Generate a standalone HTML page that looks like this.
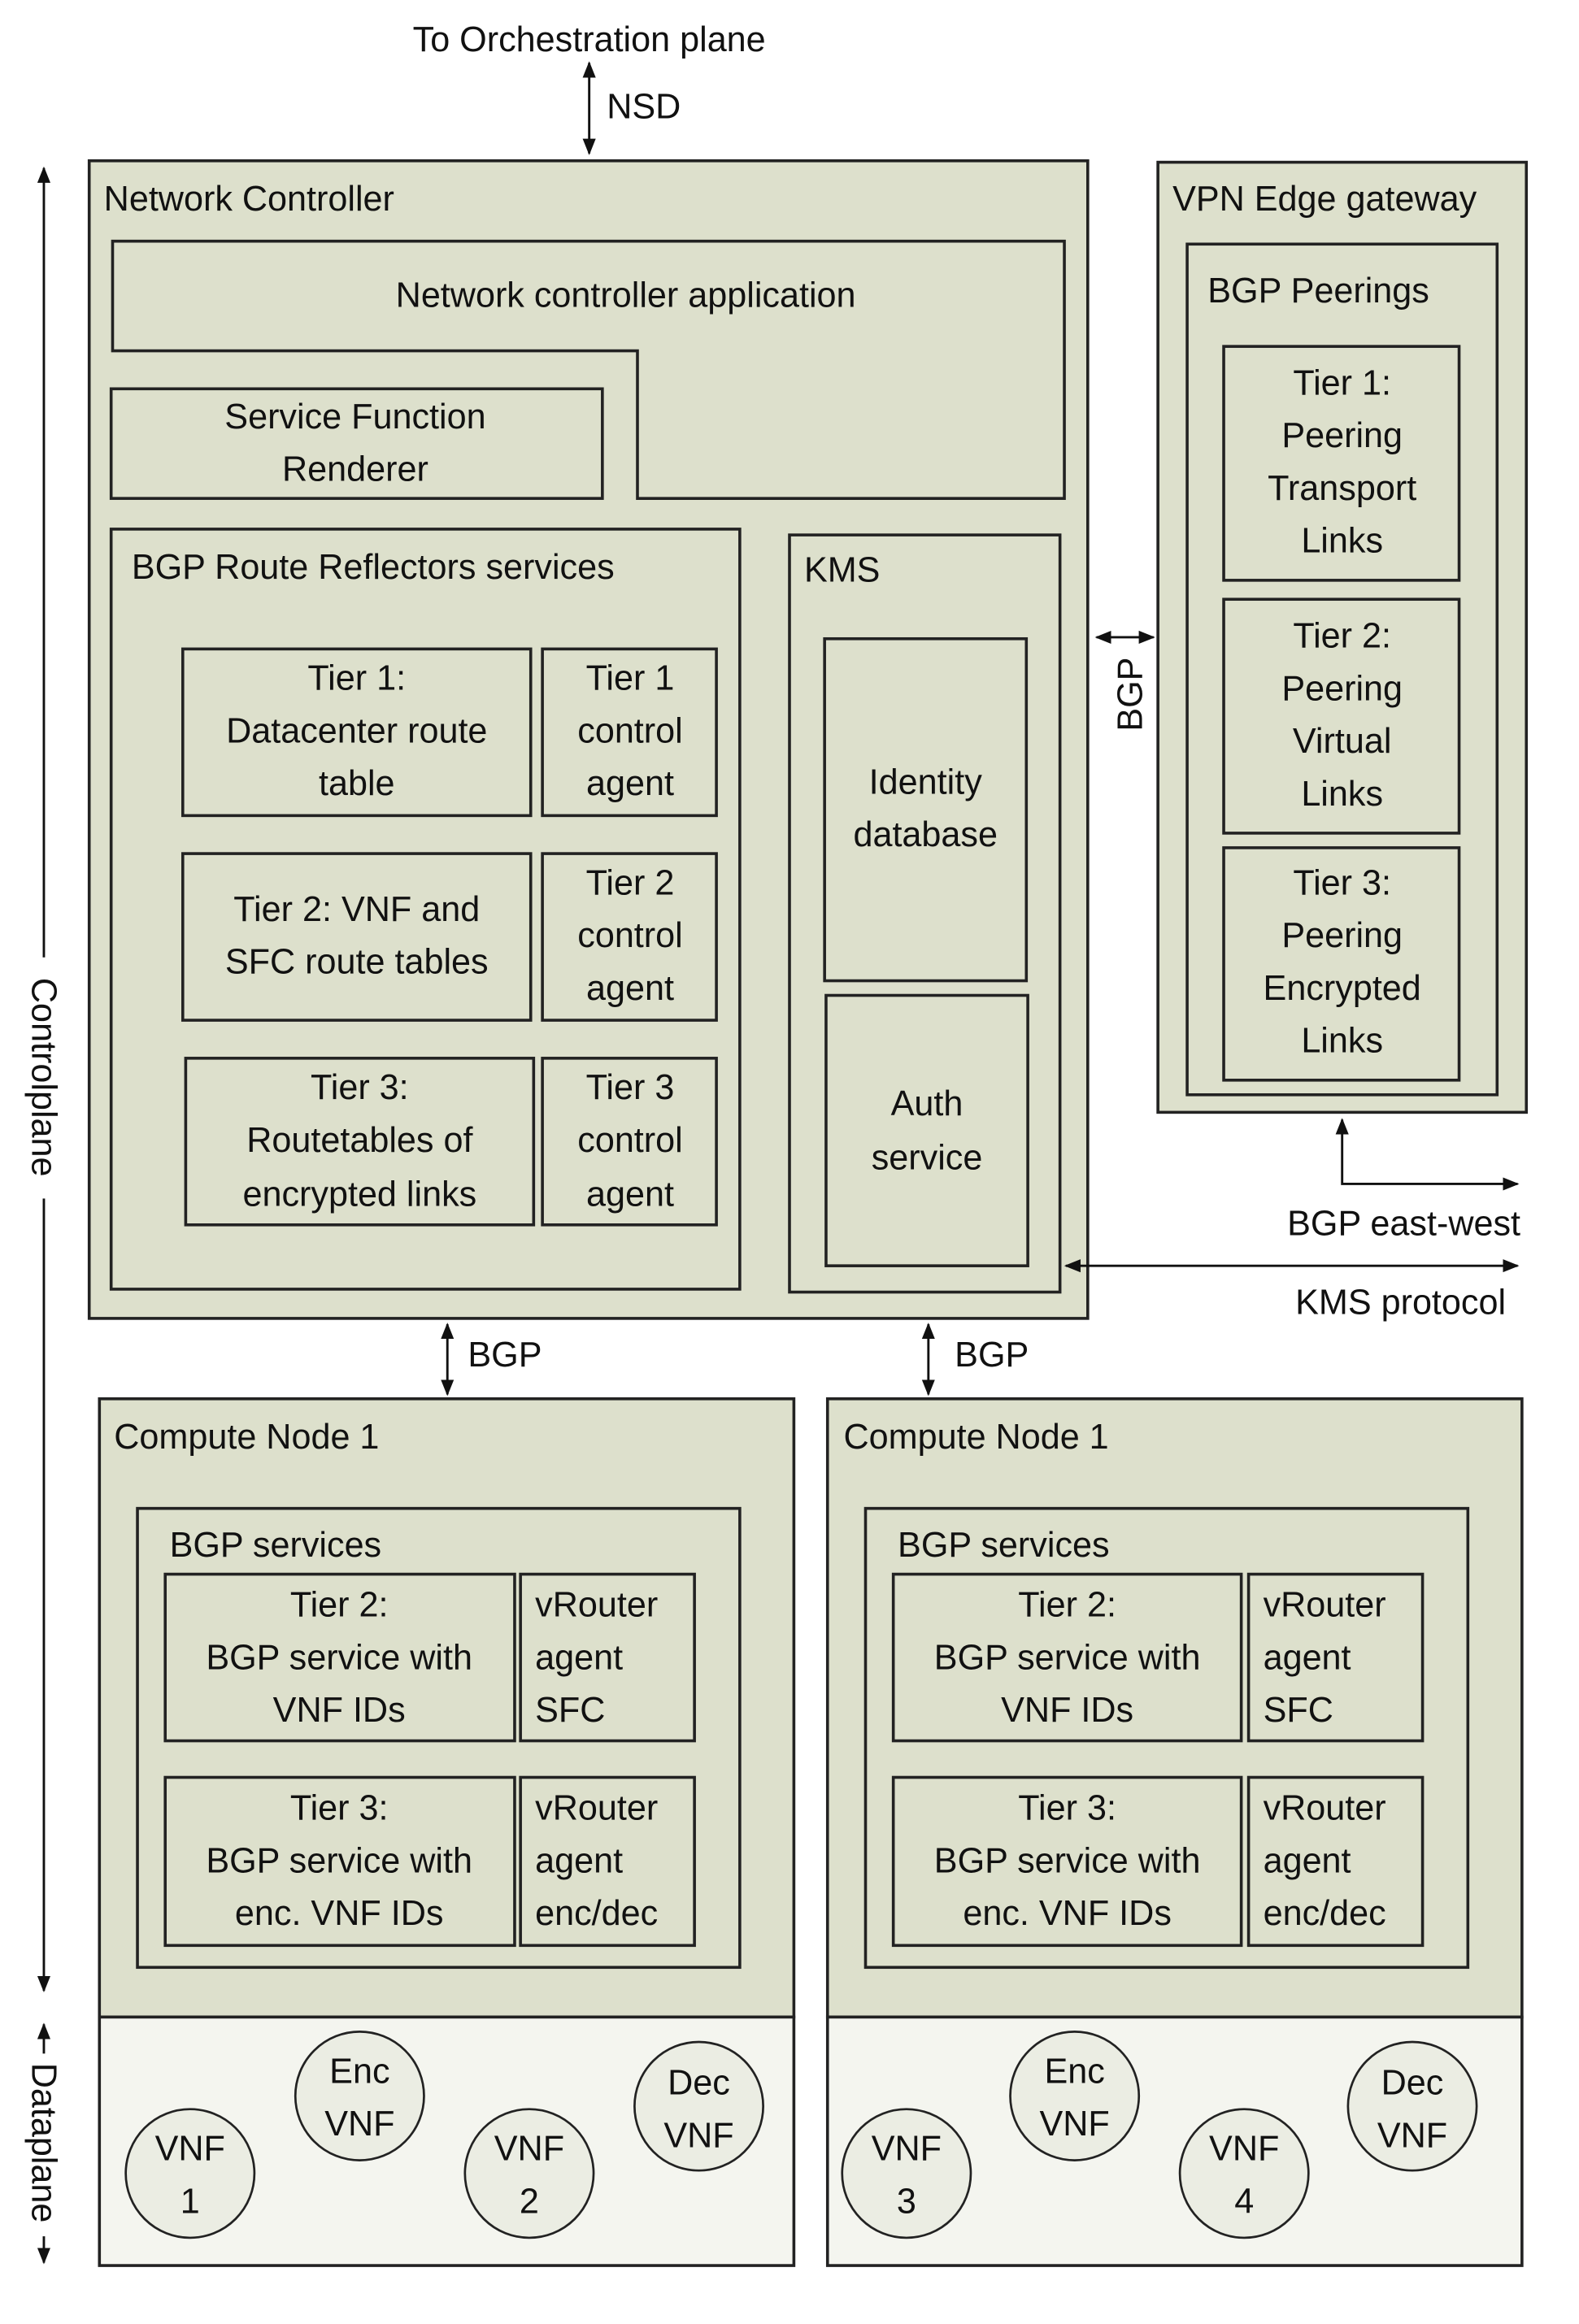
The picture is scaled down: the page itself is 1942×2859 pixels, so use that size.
<!DOCTYPE html>
<html><head><meta charset="utf-8"><style>html,body{margin:0;padding:0;background:#fff}svg{display:block}</style></head>
<body>
<svg width="1942" height="2859" viewBox="0 0 1080 1590" xmlns="http://www.w3.org/2000/svg" font-family="Liberation Sans, sans-serif" font-size="24" fill="#111">
<defs>
<marker id="a" viewBox="0 0 10 10" refX="9" refY="5" markerWidth="7" markerHeight="7" orient="auto-start-reverse"><path d="M0,1 L10,5 L0,9 z" fill="#111"/></marker>
</defs>
<g stroke="#222" stroke-width="2">
<rect x="61" y="110" width="683" height="792" fill="#dde0cc"/>
<path d="M77,165 H728 V341 H436 V240 H77 Z" fill="#dde0cc"/>
<rect x="76" y="266" width="336" height="75" fill="#dde0cc"/>
<rect x="76" y="362" width="430" height="520" fill="#dde0cc"/>
<rect x="125" y="444" width="238" height="114" fill="#dde0cc"/>
<rect x="371" y="444" width="119" height="114" fill="#dde0cc"/>
<rect x="125" y="584" width="238" height="114" fill="#dde0cc"/>
<rect x="371" y="584" width="119" height="114" fill="#dde0cc"/>
<rect x="127" y="724" width="238" height="114" fill="#dde0cc"/>
<rect x="371" y="724" width="119" height="114" fill="#dde0cc"/>
<rect x="540" y="366" width="185" height="518" fill="#dde0cc"/>
<rect x="564" y="437" width="138" height="234" fill="#dde0cc"/>
<rect x="565" y="681" width="138" height="185" fill="#dde0cc"/>
<rect x="792" y="111" width="252" height="650" fill="#dde0cc"/>
<rect x="812" y="167" width="212" height="582" fill="#dde0cc"/>
<rect x="837" y="237" width="161" height="160" fill="#dde0cc"/>
<rect x="837" y="410" width="161" height="160" fill="#dde0cc"/>
<rect x="837" y="580" width="161" height="159" fill="#dde0cc"/>
<rect x="68" y="957" width="475" height="423" fill="#dde0cc"/>
<rect x="68" y="1380" width="475" height="170" fill="#f4f5ef"/>
<rect x="566" y="957" width="475" height="423" fill="#dde0cc"/>
<rect x="566" y="1380" width="475" height="170" fill="#f4f5ef"/>
<rect x="94" y="1032" width="412" height="314" fill="#dde0cc"/>
<rect x="113" y="1077" width="239" height="114" fill="#dde0cc"/>
<rect x="356" y="1077" width="119" height="114" fill="#dde0cc"/>
<rect x="113" y="1216" width="239" height="115" fill="#dde0cc"/>
<rect x="356" y="1216" width="119" height="115" fill="#dde0cc"/>
<rect x="592" y="1032" width="412" height="314" fill="#dde0cc"/>
<rect x="611" y="1077" width="238" height="114" fill="#dde0cc"/>
<rect x="854" y="1077" width="119" height="114" fill="#dde0cc"/>
<rect x="611" y="1216" width="238" height="115" fill="#dde0cc"/>
<rect x="854" y="1216" width="119" height="115" fill="#dde0cc"/>
<g fill="#ebede3" stroke-width="1.5">
<circle cx="130" cy="1487" r="44"/><circle cx="246" cy="1434" r="44"/><circle cx="362" cy="1487" r="44"/><circle cx="478" cy="1441" r="44"/>
<circle cx="620" cy="1487" r="44"/><circle cx="735" cy="1434" r="44"/><circle cx="851" cy="1487" r="44"/><circle cx="966" cy="1441" r="44"/>
</g>
</g>
<g stroke="#111" stroke-width="1.6" fill="none">
<line x1="403" y1="43" x2="403" y2="105" marker-start="url(#a)" marker-end="url(#a)"/>
<line x1="750" y1="436" x2="789" y2="436" marker-start="url(#a)" marker-end="url(#a)"/>
<path d="M918,766 V810 H1038" marker-start="url(#a)" marker-end="url(#a)"/>
<line x1="729" y1="866" x2="1038" y2="866" marker-start="url(#a)" marker-end="url(#a)"/>
<line x1="306" y1="906" x2="306" y2="954" marker-start="url(#a)" marker-end="url(#a)"/>
<line x1="635" y1="906" x2="635" y2="954" marker-start="url(#a)" marker-end="url(#a)"/>
<line x1="30" y1="115" x2="30" y2="1362" marker-start="url(#a)" marker-end="url(#a)"/>
<line x1="30" y1="1385" x2="30" y2="1548" marker-start="url(#a)" marker-end="url(#a)"/>
</g>
<g>
<text x="403" y="35" text-anchor="middle">To Orchestration plane</text>
<text x="415" y="81">NSD</text>
<text x="71" y="144">Network Controller</text>
<text x="428" y="210" text-anchor="middle">Network controller application</text>
<text x="243" y="293" text-anchor="middle">Service Function</text>
<text x="243" y="329" text-anchor="middle">Renderer</text>
<text x="90" y="396">BGP Route Reflectors services</text>
<g text-anchor="middle">
<text x="244" y="472">Tier 1:</text><text x="244" y="508">Datacenter route</text><text x="244" y="544">table</text>
<text x="431" y="472">Tier 1</text><text x="431" y="508">control</text><text x="431" y="544">agent</text>
<text x="244" y="630">Tier 2: VNF and</text><text x="244" y="666">SFC route tables</text>
<text x="431" y="612">Tier 2</text><text x="431" y="648">control</text><text x="431" y="684">agent</text>
<text x="246" y="752">Tier 3:</text><text x="246" y="788">Routetables of</text><text x="246" y="825">encrypted links</text>
<text x="431" y="752">Tier 3</text><text x="431" y="788">control</text><text x="431" y="825">agent</text>
<text x="633" y="543">Identity</text><text x="633" y="579">database</text>
<text x="634" y="763">Auth</text><text x="634" y="800">service</text>
<text x="918" y="270">Tier 1:</text><text x="918" y="306">Peering</text><text x="918" y="342">Transport</text><text x="918" y="378">Links</text>
<text x="918" y="443">Tier 2:</text><text x="918" y="479">Peering</text><text x="918" y="515">Virtual</text><text x="918" y="551">Links</text>
<text x="918" y="612">Tier 3:</text><text x="918" y="648">Peering</text><text x="918" y="684">Encrypted</text><text x="918" y="720">Links</text>
<text x="232" y="1106">Tier 2:</text><text x="232" y="1142">BGP service with</text><text x="232" y="1178">VNF IDs</text>
<text x="232" y="1245">Tier 3:</text><text x="232" y="1281">BGP service with</text><text x="232" y="1317">enc. VNF IDs</text>
<text x="730" y="1106">Tier 2:</text><text x="730" y="1142">BGP service with</text><text x="730" y="1178">VNF IDs</text>
<text x="730" y="1245">Tier 3:</text><text x="730" y="1281">BGP service with</text><text x="730" y="1317">enc. VNF IDs</text>
<text x="130" y="1478">VNF</text><text x="130" y="1514">1</text>
<text x="246" y="1425">Enc</text><text x="246" y="1461">VNF</text>
<text x="362" y="1478">VNF</text><text x="362" y="1514">2</text>
<text x="478" y="1433">Dec</text><text x="478" y="1469">VNF</text>
<text x="620" y="1478">VNF</text><text x="620" y="1514">3</text>
<text x="735" y="1425">Enc</text><text x="735" y="1461">VNF</text>
<text x="851" y="1478">VNF</text><text x="851" y="1514">4</text>
<text x="966" y="1433">Dec</text><text x="966" y="1469">VNF</text>
</g>
<text x="550" y="398">KMS</text>
<text x="802" y="144">VPN Edge gateway</text>
<text x="826" y="207">BGP Peerings</text>
<text transform="translate(781,475) rotate(-90)" text-anchor="middle">BGP</text>
<text x="1040" y="845" text-anchor="end">BGP east-west</text>
<text x="1030" y="899" text-anchor="end">KMS protocol</text>
<text x="320" y="935">BGP</text>
<text x="653" y="935">BGP</text>
<text x="78" y="991">Compute Node 1</text>
<text x="577" y="991">Compute Node 1</text>
<text x="116" y="1065">BGP services</text>
<text x="614" y="1065">BGP services</text>
<text x="366" y="1106">vRouter</text><text x="366" y="1142">agent</text><text x="366" y="1178">SFC</text>
<text x="366" y="1245">vRouter</text><text x="366" y="1281">agent</text><text x="366" y="1317">enc/dec</text>
<text x="864" y="1106">vRouter</text><text x="864" y="1142">agent</text><text x="864" y="1178">SFC</text>
<text x="864" y="1245">vRouter</text><text x="864" y="1281">agent</text><text x="864" y="1317">enc/dec</text>
<g text-anchor="middle">
<rect x="18" y="655" width="24" height="165" fill="#fff"/>
<text transform="translate(22,737) rotate(90)">Controlplane</text>
<rect x="18" y="1405" width="24" height="125" fill="#fff"/>
<text transform="translate(22,1466) rotate(90)">Dataplane</text>
</g>
</g>
</svg>
</body></html>
